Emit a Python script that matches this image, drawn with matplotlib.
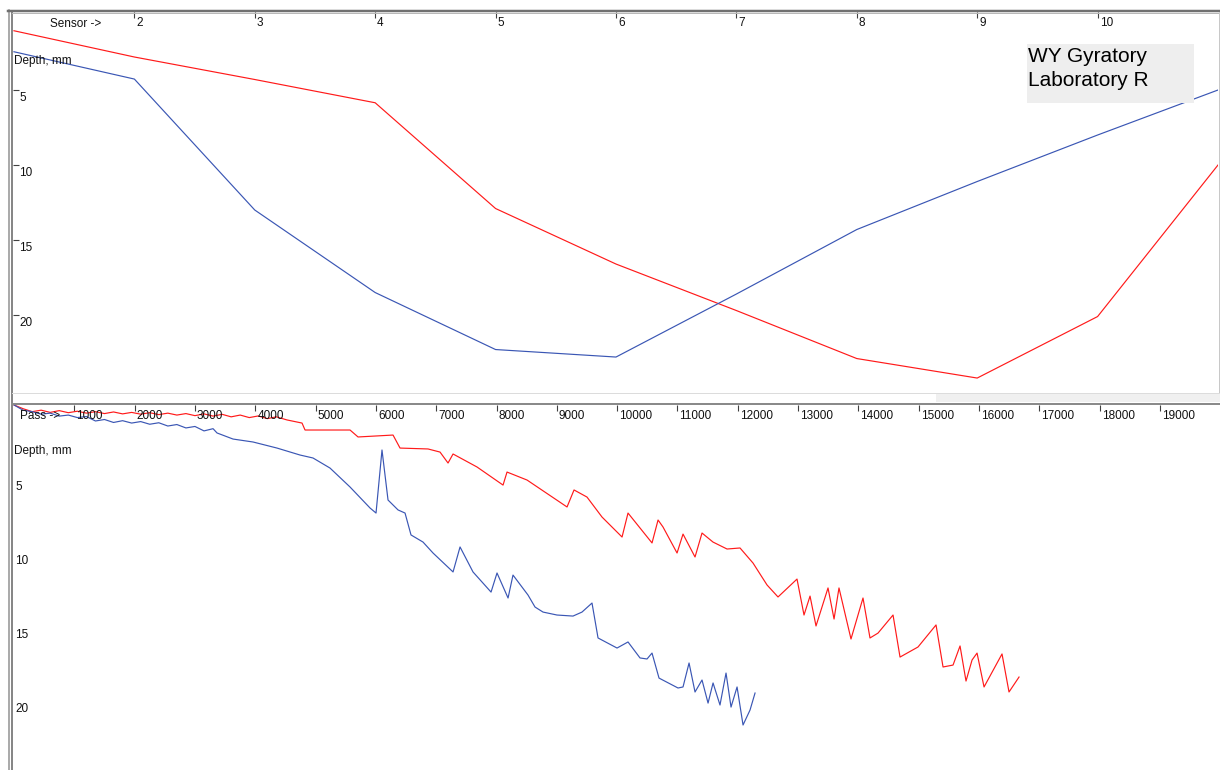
import matplotlib
matplotlib.use('Agg')
import matplotlib.pyplot as plt
import matplotlib.transforms as mtransforms
from matplotlib.lines import Line2D
from matplotlib.patches import Rectangle

W, H = 1220, 770
plt.rcParams['font.family'] = ['Liberation Sans', 'DejaVu Sans']

# --- top panel: depth profile along sensors
sensors = [1, 2, 3, 4, 5, 6, 7, 8, 9, 10, 11]
top_red = [1.05, 2.8, 4.3, 5.85, 12.9, 16.6, 19.7, 22.9, 24.2, 20.1, 10.0]
top_blue = [2.45, 4.27, 13.0, 18.5, 22.3, 22.8, 18.6, 14.3, 11.1, 8.0, 5.0]
sensor_ticks = [2, 3, 4, 5, 6, 7, 8, 9, 10]
depth_ticks = [5, 10, 15, 20]

# --- bottom panel: depth vs passes
red_pass = [0, 150, 300, 450, 600, 750, 900, 1050, 1200, 1350, 1500, 1650, 1800,
            1950, 2100, 2250, 2400, 2550, 2700, 2850, 3000, 3150, 3300, 3450,
            3600, 3750, 3900, 4050, 4200, 4350, 4526, 4775, 4825, 5571, 5704,
            6284, 6400, 6864, 7063, 7196, 7279, 7677, 8108, 8174, 8506, 9169,
            9285, 9500, 9749, 10081, 10180, 10578, 10678, 10760, 10993, 11092,
            11291, 11407, 11589, 11822, 12037, 12253, 12485, 12667, 12982, 13098,
            13198, 13297, 13496, 13596, 13678, 13877, 14076, 14192, 14325, 14574,
            14690, 14988, 15287, 15403, 15569, 15685, 15784, 15884, 15967, 16083,
            16381, 16497, 16663]
red_depth = [0.0, 0.25, 0.45, 0.35, 0.5, 0.38, 0.52, 0.42, 0.55, 0.45, 0.58, 0.47, 0.6,
             0.5, 0.62, 0.52, 0.65, 0.55, 0.68, 0.58, 0.72, 0.6, 0.75, 0.63,
             0.8, 0.68, 0.85, 0.74, 0.92, 0.8, 1.01, 1.22, 1.69, 1.69, 2.16,
             2.03, 2.91, 2.97, 3.18, 3.92, 3.31, 4.19, 5.41, 4.53, 5.07, 6.89,
             5.74, 6.22, 7.57, 8.92, 7.30, 9.32, 7.77, 8.24, 10.0, 8.72,
             10.27, 8.65, 9.26, 9.73, 9.66, 10.68, 12.16, 12.97, 11.76, 14.19,
             12.91, 14.93, 12.36, 14.46, 12.36, 15.81, 13.04, 15.74, 15.41, 14.19,
             17.03, 16.35, 14.86, 17.70, 17.57, 16.28, 18.65, 17.23, 16.76, 19.05,
             16.82, 19.39, 18.38]

blue_pass = [0, 150, 300, 450, 600, 750, 900, 1050, 1200, 1350, 1500, 1650, 1800,
             1950, 2100, 2250, 2400, 2550, 2700, 2850, 3000, 3150, 3300, 3366,
             3631, 3963, 4361, 4742, 4957, 5239, 5571, 5903, 6002, 6101, 6201,
             6367, 6483, 6582, 6781, 6947, 7279, 7395, 7610, 7909, 8008, 8191,
             8273, 8522, 8638, 8771, 9003, 9268, 9417, 9583, 9683, 9998, 10180,
             10379, 10495, 10578, 10694, 11009, 11092, 11192, 11291, 11407, 11507,
             11590, 11705, 11805, 11888, 11988, 12087, 12203, 12286]
blue_depth = [0.0, 0.35, 0.45, 0.62, 0.55, 0.75, 0.68, 0.85, 0.78, 1.08, 0.98, 1.18, 1.06,
              1.22, 1.12, 1.30, 1.20, 1.42, 1.32, 1.55, 1.45, 1.75, 1.60, 1.89,
              2.30, 2.50, 2.91, 3.38, 3.58, 4.26, 5.54, 6.96, 7.30, 3.04, 6.42,
              7.09, 7.30, 8.78, 9.26, 10.0, 11.28, 9.59, 11.28, 12.64, 11.35, 13.04,
              11.49, 12.84, 13.65, 13.99, 14.19, 14.26, 13.99, 13.38, 15.74, 16.42, 16.01,
              17.09, 17.16, 16.76, 18.45, 19.12, 19.05, 17.43, 19.39, 18.58, 20.14,
              18.78, 20.27, 18.11, 20.41, 19.05, 21.62, 20.61, 19.46]
pass_ticks = list(range(1000, 20000, 1000))

RED = '#ff1a1a'
BLUE = '#3a56b4'
FS = 8.5

fig = plt.figure(figsize=(W / 100, H / 100), dpi=100)


def px_axes(x0, y0, x1, y1):
    return fig.add_axes([x0 / W, 1 - y1 / H, (x1 - x0) / W, (y1 - y0) / H])


def fig_text(x, y, s, **kw):
    fig.text(x / W, 1 - y / H, s, **kw)


def fig_line(x0, y0, x1, y1, color, lw):
    fig.add_artist(Line2D([x0 / W, x1 / W], [1 - y0 / H, 1 - y1 / H],
                          transform=fig.transFigure, color=color, lw=lw * 0.72))


def style_axes(ax, xticks, yticks, ytickmarks=True, ylab_dx=2):
    for sp in ax.spines.values():
        sp.set_visible(False)
    ax.xaxis.set_ticks_position('top')
    ax.set_xticks(xticks)
    ax.set_yticks(yticks if ytickmarks else [])
    ax.tick_params(axis='x', direction='in', length=4, width=0.8, color='#404040',
                   labeltop=False, labelbottom=False)
    ax.tick_params(axis='y', direction='in', length=4, width=0.8, color='#404040',
                   labelleft=False)
    xt = mtransforms.offset_copy(ax.get_xaxis_transform(), fig=fig, x=2, y=-5, units='dots')
    for t in xticks:
        ax.text(t, 1, str(t), transform=xt, ha='left', va='top', fontsize=FS, color='#111111')
    yt = mtransforms.offset_copy(ax.get_yaxis_transform(), fig=fig, x=ylab_dx, y=-2, units='dots')
    for t in yticks:
        ax.text(0, t, str(t), transform=yt, ha='left', va='top', fontsize=FS, color='#111111')


# top axes
ax1 = px_axes(13, 12, 1218, 392)
ax1.plot(sensors, top_red, color=RED, lw=0.85)
ax1.plot(sensors, top_blue, color=BLUE, lw=0.85)
ax1.set_xlim(0.992, 11.0)
ax1.set_ylim(25.13, -0.2)
style_axes(ax1, sensor_ticks, depth_ticks, ylab_dx=6)

# bottom axes
ax2 = px_axes(13, 405, 1218, 770)
ax2.plot(red_pass, red_depth, color=RED, lw=0.85)
ax2.plot(blue_pass, blue_depth, color=BLUE, lw=0.85)
ax2.set_xlim(-17, 19962)
ax2.set_ylim(24.66, 0)
style_axes(ax2, pass_ticks, depth_ticks, ytickmarks=False)

# axis captions
fig_text(50, 24, 'Sensor ->', fontsize=FS, va='center', ha='left', color='#111111')
fig_text(14, 61, 'Depth, mm', fontsize=FS, va='center', ha='left', color='#111111')
fig_text(20, 416, 'Pass ->', fontsize=FS, va='center', ha='left', color='#111111')
fig_text(14, 451, 'Depth, mm', fontsize=FS, va='center', ha='left', color='#111111')

# label box
fig.add_artist(Rectangle((1027 / W, 1 - 103 / H), 167 / W, 59 / H,
                         transform=fig.transFigure, facecolor='#eeeeee',
                         edgecolor='none', zorder=3))
fig_text(1028, 56, 'WY Gyratory', fontsize=15, va='center', ha='left', zorder=4)
fig_text(1028, 81, 'Laboratory R', fontsize=15, va='center', ha='left', zorder=4)

# window frame
fig_line(8.5, 10, 8.5, 770, '#909090', 1.5)
fig_line(12, 12, 12, 770, '#606060', 1.5)
fig_line(8, 10.5, 1220, 10.5, '#707070', 2.5)
fig_line(12, 13, 1220, 13, '#b8b8b8', 1)
fig_line(1218.5, 12, 1218.5, 392, '#c8c8c8', 1)
fig_line(12, 392.5, 1220, 392.5, '#dcdcdc', 1)
fig.add_artist(Rectangle((936 / W, 1 - 402 / H), 284 / W, 8 / H,
                         transform=fig.transFigure, facecolor='#f0f0f0', edgecolor='none'))
fig_line(12, 403.5, 1220, 403.5, '#8a8a8a', 2)

fig.savefig('out.png', dpi=100)
